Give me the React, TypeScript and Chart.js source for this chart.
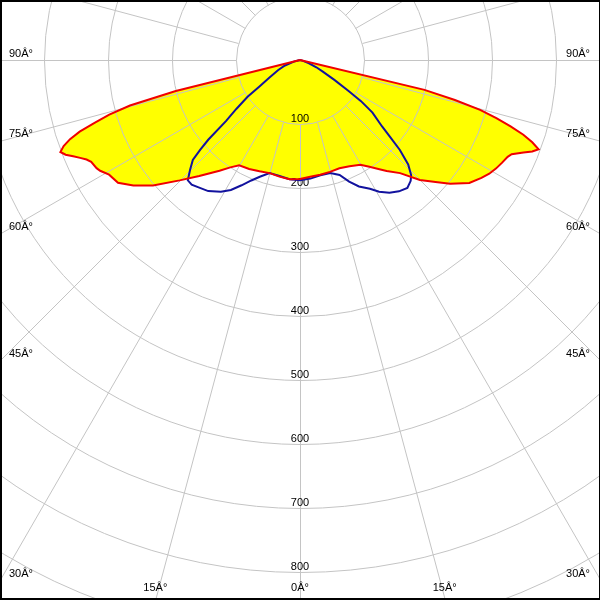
import React, { useEffect, useRef } from "react";
import { Chart, registerables } from "chart.js";

Chart.register(...registerables);

// C0-C180 plane (red outline, yellow fill): angle (deg, from nadir, left negative) and intensity
const redAngles = [
  -90, -80, -77, -76, -75, -74, -73, -72, -71, -70, -69, -68, -67, -66, -65, -64, -62, -61, -59, -56,
  -53, -49.5, -45, -41, -36, -33, -30, -25, -20, -15, -10, -5, 0, 5, 10, 15, 20, 25, 30, 33, 36, 38,
  41.5, 45, 48, 50.5, 54, 57, 59, 61, 63, 65, 66, 67.5, 68.5, 69.5, 70.5, 71.5, 72.5, 73.5, 74.5, 75.5,
  76.5, 77.5, 80, 90,
];
const redValues = [
  0, 0, 0, 200, 275, 310, 335, 362, 380, 393, 401, 395, 385, 376, 368, 363, 360, 357, 348, 343,
  326, 302, 266, 240, 214, 200, 190, 188, 185, 183, 185, 187, 186, 183, 182, 181, 180, 183, 189, 199, 211, 220,
  236, 265, 285, 304, 327, 338, 345, 350, 354, 358, 362, 378, 390, 398, 385, 368, 345, 320, 292, 250,
  200, 0, 0, 0,
];

// C90-C270 plane (blue outline)
const blueAngles = [
  -90, -80, -75, -70, -65, -60, -57, -55, -52.5, -50.5, -49, -48, -47, -45, -43, -41, -39, -35, -31, -28,
  -25, -22, -19, -15, -10, -5, 0, 5, 10, 15, 19, 22, 25, 28.5, 31, 34, 37, 40, 42.5, 44, 46, 48, 49.5,
  51, 54, 56, 57.5, 60, 63, 66, 70, 75, 80, 90,
];
const blueValues = [
  0, 0, 10, 25, 38, 55, 75, 100, 125, 150, 190, 210, 229, 243, 257, 258, 255, 250, 240, 230,
  216, 203, 193, 183, 184, 187, 188, 186, 183, 183, 190, 205, 218, 229, 240, 250, 257, 261, 256, 250, 235, 210, 185,
  165, 140, 115, 90, 62, 40, 28, 15, 5, 0, 0,
];

// Grid
const ringValues = [100, 200, 300, 400, 500, 600, 700, 800, 900, 1000];
const ringLabels = ["100", "200", "300", "400", "500", "600", "700", "800"];
const spokeAngles = Array.from({ length: 24 }, (_, i) => i * 15);
const angleLabelAngles = [-90, -75, -60, -45, -30, -15, 0, 15, 30, 45, 60, 75, 90];
const angleLabels = [
  "90Â°", "75Â°", "60Â°", "45Â°", "30Â°", "15Â°", "0Â°", "15Â°", "30Â°", "45Â°", "60Â°", "75Â°", "90Â°",
];

const toXY = (angles: number[], values: number[]) =>
  angles.map((a, i) => {
    const r = (a * Math.PI) / 180;
    return { x: values[i] * Math.sin(r), y: -values[i] * Math.cos(r) };
  });

const FONT = '11px "Liberation Sans", Arial, sans-serif';

const gridPlugin = {
  id: "polarGrid",
  beforeDatasetsDraw(chart: any) {
    const { ctx, scales, width, height } = chart;
    const xs = scales.x;
    const ys = scales.y;
    const cx = xs.getPixelForValue(0);
    const cy = ys.getPixelForValue(0);
    ctx.save();
    ctx.strokeStyle = "#c4c4c4";
    ctx.lineWidth = 1;
    // circles
    ringValues.forEach((v) => {
      const rp = xs.getPixelForValue(v) - cx;
      ctx.beginPath();
      ctx.arc(cx + 0.5, cy + 0.5, rp, 0, Math.PI * 2);
      ctx.stroke();
    });
    // spokes
    spokeAngles.forEach((a) => {
      const r = (a * Math.PI) / 180;
      const s = Math.sin(r);
      const c = Math.cos(r);
      const x1 = xs.getPixelForValue(100 * s);
      const y1 = ys.getPixelForValue(-100 * c);
      const x2 = xs.getPixelForValue(2000 * s);
      const y2 = ys.getPixelForValue(-2000 * c);
      ctx.beginPath();
      ctx.moveTo(Math.round(x1) + 0.5, Math.round(y1) + 0.5);
      ctx.lineTo(x2 + 0.5, y2 + 0.5);
      ctx.stroke();
    });
    // ring labels
    ctx.fillStyle = "#000";
    ctx.font = FONT;
    ctx.textAlign = "center";
    ctx.textBaseline = "alphabetic";
    ringLabels.forEach((t, i) => {
      const py = ys.getPixelForValue(-ringValues[i]);
      ctx.fillText(t, cx, py - 2);
    });
    // angle labels
    angleLabelAngles.forEach((a, i) => {
      const r = (a * Math.PI) / 180;
      const dx = Math.sin(r);
      const dy = Math.cos(r);
      const tx = Math.abs(dx) < 1e-9 ? Infinity : dx < 0 ? (0 - cx) / dx : (width - cx) / dx;
      const ty = dy > 1e-9 ? (height - cy) / dy : Infinity;
      if (tx <= ty) {
        const ey = cy + tx * dy;
        ctx.textAlign = dx < 0 ? "left" : "right";
        ctx.fillText(angleLabels[i], dx < 0 ? 9 : width - 10, ey - 3);
      } else {
        const ex = cx + ty * dx;
        ctx.textAlign = "center";
        ctx.fillText(angleLabels[i], ex, height - 9);
      }
    });
    ctx.restore();
  },
  afterDraw(chart: any) {
    const { ctx, width, height } = chart;
    ctx.save();
    ctx.fillStyle = "#000";
    ctx.fillRect(0, 0, width, 2);
    ctx.fillRect(0, 0, 2, height);
    ctx.fillRect(0, height - 2, width, 2);
    ctx.fillRect(width - 1, 0, 1, height);
    ctx.restore();
  },
};

export default function App() {
  const ref = useRef<HTMLCanvasElement | null>(null);
  useEffect(() => {
    if (!ref.current) return;
    const chart = new Chart(ref.current, {
      type: "scatter",
      data: {
        datasets: [
          {
            data: toXY(redAngles, redValues),
            showLine: true,
            borderColor: "#f00000",
            borderWidth: 2,
            backgroundColor: "#ffff00",
            fill: "shape",
            pointRadius: 0,
            tension: 0,
          } as any,
          {
            data: toXY(blueAngles, blueValues),
            showLine: true,
            borderColor: "#12129e",
            borderWidth: 2,
            fill: false,
            pointRadius: 0,
            tension: 0,
          } as any,
        ],
      },
      options: {
        animation: false,
        responsive: false,
        events: [],
        layout: { padding: 0 },
        plugins: {
          legend: { display: false },
          tooltip: { enabled: false },
          filler: { drawTime: "beforeDraw" },
        } as any,
        scales: {
          x: { type: "linear", min: -468.75, max: 468.75, display: false },
          y: { type: "linear", min: -843.75, max: 93.75, display: false },
        },
      },
      plugins: [gridPlugin],
    });
    return () => chart.destroy();
  }, []);
  return (
    <div style={{ position: "absolute", left: 0, top: 0, width: 600, height: 600 }}>
      <canvas
        ref={ref}
        width={600}
        height={600}
        style={{ display: "block", width: 600, height: 600, background: "#ffffff" }}
      />
    </div>
  );
}
